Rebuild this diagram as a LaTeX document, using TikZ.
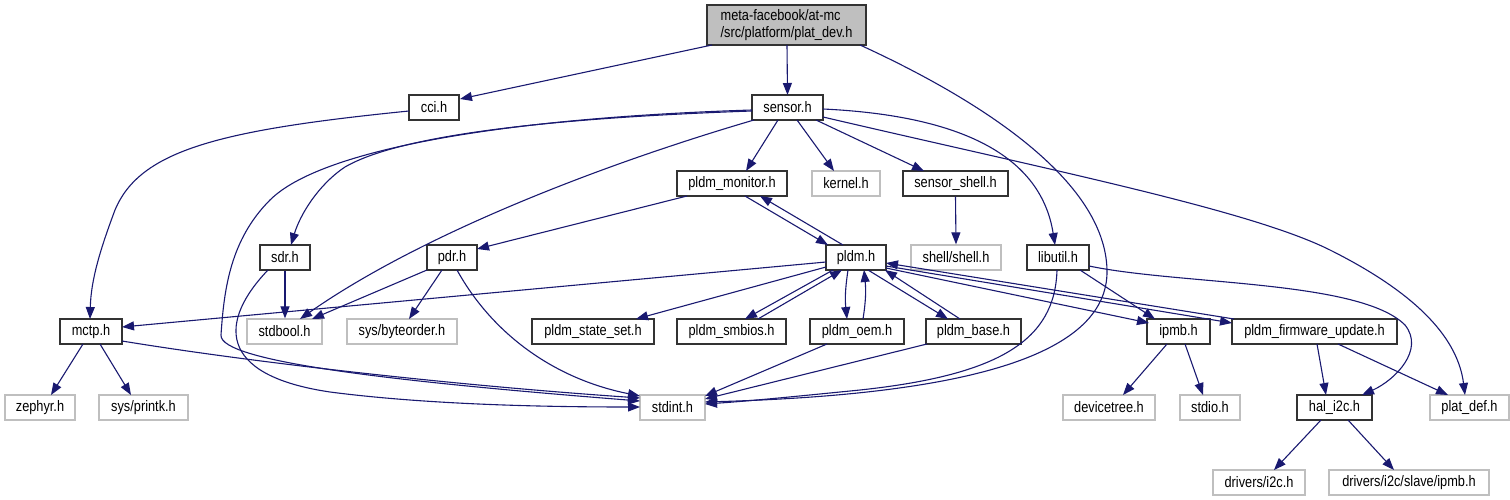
\documentclass[tikz,border=0pt]{standalone}
\usepackage{fontspec}
\setmainfont{Liberation Sans}[FakeStretch=0.84]
\usetikzlibrary{arrows.meta,calc}
\definecolor{edgeblue}{HTML}{191970}
\definecolor{grayline}{HTML}{BFBFBF}
\definecolor{rootfill}{HTML}{BFBFBF}
\begin{document}
\begin{tikzpicture}[x=1pt,y=-1pt,
  font=\fontsize{15.2}{17.5}\selectfont,
  box/.style={draw=black!80, line width=1.2pt, fill=white, inner sep=0pt, minimum height=25pt, text=black},
  gbox/.style={box, draw=grayline},
  rootbox/.style={box, fill=rootfill, minimum height=40pt, align=left},
  edge/.style={draw=edgeblue, line width=1.1pt, -{Triangle[length=12pt,width=9pt]}}]
\useasboundingbox (0,0) rectangle (1510,500);
% nodes
\node[rootbox, minimum width=159pt] (root) at (786.5,25) {meta-facebook/at-mc\\/src/platform/plat\_dev.h};
\node[box, minimum width=50pt] (cci) at (434,107.5) {cci.h};
\node[box, minimum width=71pt] (sensor) at (787.5,107.5) {sensor.h};
\node[box, minimum width=110pt] (mon) at (732,183.5) {pldm\_monitor.h};
\node[gbox, minimum width=68pt] (kernel) at (846,183.5) {kernel.h};
\node[box, minimum width=105pt] (sshell) at (955.5,183.5) {sensor\_shell.h};
\node[box, minimum width=50pt] (sdr) at (285,257.5) {sdr.h};
\node[box, minimum width=50pt] (pdr) at (452,257.5) {pdr.h};
\node[box, minimum width=60pt] (pldm) at (856,257.5) {pldm.h};
\node[gbox, minimum width=90pt] (shell) at (956,257.5) {shell/shell.h};
\node[box, minimum width=62pt] (libutil) at (1058,257.5) {libutil.h};
\node[box, minimum width=62pt] (mctp) at (91,331.5) {mctp.h};
\node[gbox, minimum width=75pt] (stdbool) at (284.5,331.5) {stdbool.h};
\node[gbox, minimum width=110pt] (byteorder) at (402,331.5) {sys/byteorder.h};
\node[box, minimum width=122pt] (stateset) at (593,331.5) {pldm\_state\_set.h};
\node[box, minimum width=109pt] (smbios) at (731.5,331.5) {pldm\_smbios.h};
\node[box, minimum width=94pt] (oem) at (857,331.5) {pldm\_oem.h};
\node[box, minimum width=95pt] (base) at (973.5,331.5) {pldm\_base.h};
\node[box, minimum width=63pt] (ipmb) at (1178.5,331.5) {ipmb.h};
\node[box, minimum width=165pt] (fwupd) at (1314.5,331.5) {pldm\_firmware\_update.h};
\node[gbox, minimum width=70pt] (zephyr) at (40,407.5) {zephyr.h};
\node[gbox, minimum width=89pt] (printk) at (143.5,407.5) {sys/printk.h};
\node[gbox, minimum width=65pt] (stdint) at (672.5,407.5) {stdint.h};
\node[gbox, minimum width=92pt] (devtree) at (1109,407.5) {devicetree.h};
\node[gbox, minimum width=60pt] (stdio) at (1210,407.5) {stdio.h};
\node[box, minimum width=75pt] (hali2c) at (1334.5,407.5) {hal\_i2c.h};
\node[gbox, minimum width=79pt] (platdef) at (1469.5,407.5) {plat\_def.h};
\node[gbox, minimum width=92pt] (i2c) at (1259,482.5) {drivers/i2c.h};
\node[gbox, minimum width=160pt] (slave) at (1409,482.5) {drivers/i2c/slave/ipmb.h};
% edges
\draw[edge] ($(root)+(-74.5,20)$) -- ($(cci)+(26,-8.5)$);
\draw[edge] ($(root)+(0.5,20)$) -- ($(sensor)+(0,-12.5)$);
\draw[edge] ($(root)+(73.5,20)$) .. controls (980,100) and (1105,180) .. (1107,270) .. controls (1109,360) and (950,395) .. ($(stdint)+(32.5,-5.5)$);
\draw[edge] ($(cci)+(-25,3.5)$) .. controls (220,130) and (140,150) .. (115,210) .. controls (100,250) and (91,280) .. ($(mctp)+(-1,-12.5)$);
\draw[edge] ($(sensor)+(-9.5,12.5)$) -- ($(mon)+(14,-12.5)$);
\draw[edge] ($(sensor)+(9.5,12.5)$) -- ($(kernel)+(-12,-12.5)$);
\draw[edge] ($(sensor)+(28.5,12.5)$) -- ($(sshell)+(-31.5,-12.5)$);
\draw[edge] ($(sensor)+(-35.5,3.5)$) .. controls (550,118) and (400,135) .. (345,167) .. controls (318,185) and (300,215) .. ($(sdr)+(6,-12.5)$);
\draw[edge] ($(sensor)+(-35.5,2.5)$) .. controls (500,118) and (320,150) .. (270,200) .. controls (230,240) and (224,290) .. (221,335) .. controls (219,362) and (400,382) .. ($(stdint)+(-32.5,-6.5)$);
\draw[edge] ($(sensor)+(-33.5,12.5)$) .. controls (600,165) and (420,235) .. ($(stdbool)+(15.5,-12.5)$);
\draw[edge] ($(sensor)+(35.5,1.5)$) .. controls (950,115) and (1040,150) .. ($(libutil)+(-3,-12.5)$);
\draw[edge] ($(sensor)+(35.5,9.5)$) .. controls (1050,170) and (1250,210) .. (1330,250) .. controls (1420,295) and (1458,340) .. ($(platdef)+(-4.5,-12.5)$);
\draw[edge] ($(mon)+(-45,12.5)$) -- ($(pdr)+(25,-8.5)$);
\draw[edge] ($(mon)+(13,12.5)$) -- ($(pldm)+(-28,-12.5)$);
\draw[edge] ($(pldm)+(-13,-12.5)$) -- ($(mon)+(28,12.5)$);
\draw[edge] (sshell.south) -- (shell.north);
\draw[edge] (sdr.south) -- (sdr.south |- stdbool.north);
\draw[edge] ($(sdr)+(-17,12.5)$) .. controls (220,320) and (215,375) .. (330,392) .. controls (430,405) and (550,407) .. ($(stdint)+(-32.5,-0.5)$);
\draw[edge] ($(pdr)+(-25,12.5)$) -- ($(stdbool)+(27.5,-12.5)$);
\draw[edge] ($(pdr)+(-10,12.5)$) -- ($(byteorder)+(7,-12.5)$);
\draw[edge] ($(pdr)+(5,12.5)$) .. controls (490,330) and (550,378) .. ($(stdint)+(-32.5,-11.5)$);
\draw[edge] ($(pldm)+(-30,4.5)$) -- ($(mctp)+(31,-4.5)$);
\draw[edge] ($(pldm)+(-30,9.5)$) -- ($(stateset)+(43,-12.5)$);
\draw[edge] ($(pldm)+(-23,12.5)$) -- ($(smbios)+(13.5,-12.5)$);
\draw[edge] ($(smbios)+(26.5,-12.5)$) -- ($(pldm)+(-14,12.5)$);
\draw[edge] ($(pldm)+(-8,12.5)$) .. controls (845,290) and (845,300) .. ($(oem)+(-10,-12.5)$);
\draw[edge] ($(oem)+(6,-12.5)$) .. controls (866,300) and (866,290) .. ($(pldm)+(8,12.5)$);
\draw[edge] ($(pldm)+(12,12.5)$) -- ($(base)+(-25.5,-12.5)$);
\draw[edge] ($(base)+(-13.5,-12.5)$) -- ($(pldm)+(29,12.5)$);
\draw[edge] ($(pldm)+(30,10.5)$) -- ($(ipmb)+(-29.5,-8.5)$);
\draw[edge] ($(pldm)+(30,8.5)$) -- ($(fwupd)+(-82.5,-8.5)$);
\draw[edge] ($(fwupd)+(-80.5,-12.5)$) -- ($(pldm)+(30,5.5)$);
\draw[edge] ($(libutil)+(-1,12.5)$) .. controls (1055,340) and (1000,375) .. (860,390) .. controls (800,396) and (750,401) .. ($(stdint)+(32.5,-3.5)$);
\draw[edge] ($(libutil)+(22,12.5)$) -- ($(ipmb)+(-23.5,-12.5)$);
\draw[edge] ($(libutil)+(31,8.5)$) .. controls (1180,285) and (1360,280) .. (1405,325) .. controls (1425,350) and (1395,380) .. ($(hali2c)+(27.5,-12.5)$);
\draw[edge] ($(mctp)+(-8,12.5)$) -- ($(zephyr)+(11,-12.5)$);
\draw[edge] ($(mctp)+(9,12.5)$) -- ($(printk)+(-12.5,-12.5)$);
\draw[edge] ($(mctp)+(31,9.5)$) .. controls (250,362) and (450,385) .. ($(stdint)+(-32.5,-9.5)$);
\draw[edge] ($(oem)+(-30,12.5)$) -- ($(stdint)+(32.5,-11.5)$);
\draw[edge] ($(base)+(-46.5,12.5)$) -- ($(stdint)+(32.5,-8.5)$);
\draw[edge] ($(ipmb)+(-11.5,12.5)$) -- ($(devtree)+(14,-12.5)$);
\draw[edge] ($(ipmb)+(6.5,12.5)$) -- ($(stdio)+(-7,-12.5)$);
\draw[edge] ($(fwupd)+(2.5,12.5)$) -- ($(hali2c)+(-8.5,-12.5)$);
\draw[edge] ($(fwupd)+(23.5,12.5)$) -- ($(platdef)+(-21.5,-12.5)$);
\draw[edge] ($(hali2c)+(-13.5,12.5)$) -- ($(i2c)+(15,-12.5)$);
\draw[edge] ($(hali2c)+(13.5,12.5)$) -- ($(slave)+(-15,-12.5)$);
\end{tikzpicture}
\end{document}
